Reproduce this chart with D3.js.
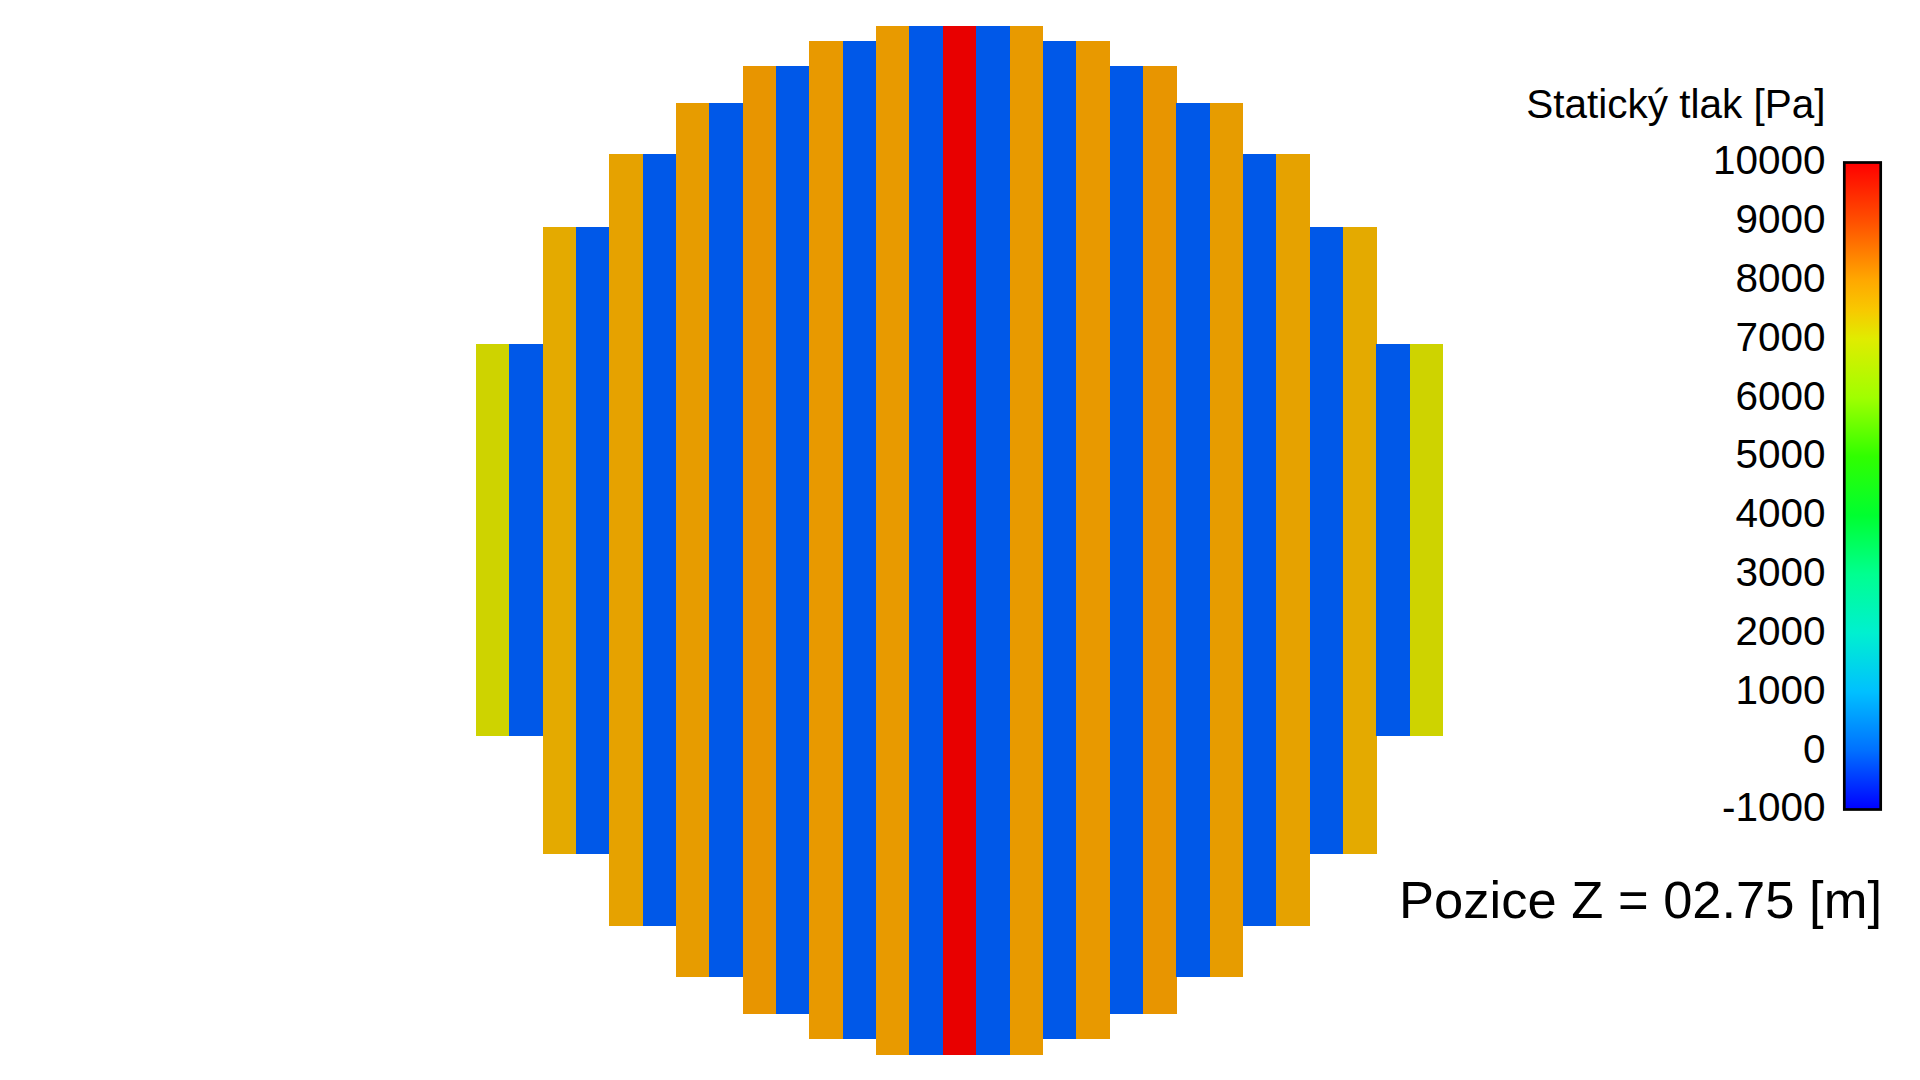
<!DOCTYPE html>
<html>
<head>
<meta charset="utf-8">
<script src="https://cdn.jsdelivr.net/npm/d3@7"></script>
<style>
  html, body { margin: 0; padding: 0; background: #fff; }
  svg { display: block; }
  text { font-family: "Liberation Sans", Arial, sans-serif; fill: #000; }
</style>
</head>
<body>
<svg id="chart" width="1920" height="1080"></svg>
<script>
// ---------- DATA ----------
// stripe index across the cross-section (left to right)
const stripeIds = d3.range(29);
// static pressure in each stripe [Pa]
const stripeValues = [
  7050, -130, 7700, -130, 7850, -130, 7950, -130, 8050, -130, 8000, -130, 7980, -130,
  10000,
  -130, 7980, -130, 8000, -130, 8050, -130, 7950, -130, 7850, -130, 7700, -130, 7050
];
// half-height of each stripe (cross-section extent in y, model units)
const stripeHalfHeights = [
  0.196, 0.196, 0.3135, 0.3135, 0.386, 0.386, 0.437, 0.437, 0.474, 0.474, 0.499, 0.499, 0.5145, 0.5145,
  0.5145,
  0.5145, 0.5145, 0.499, 0.499, 0.474, 0.474, 0.437, 0.437, 0.386, 0.386, 0.3135, 0.3135, 0.196, 0.196
];
// colour map stops
const colorStopValues = [-1000, 0, 1000, 2000, 3000, 4000, 5000, 6000, 7000, 7500, 8000, 9000, 10000];
const colorStopColors = ["#0000ff", "#0070ff", "#00c0ff", "#00f0d0", "#00ff90", "#00ff30",
                         "#30ff00", "#a0ff00", "#e0ec00", "#f8c800", "#ffa800", "#ff5000", "#ff0000"];
// colour-bar tick labels
const tickValues = [10000, 9000, 8000, 7000, 6000, 5000, 4000, 3000, 2000, 1000, 0, -1000];
const legendTitle = "Statický tlak [Pa]";
const positionLabel = "Pozice Z = 02.75 [m]";

// ---------- DRAW ----------
const svg = d3.select("#chart");
const shade = 0.91;

const color = d3.scaleLinear().domain(colorStopValues).range(colorStopColors)
  .interpolate(d3.interpolateRgb).clamp(true);
const shaded = v => {
  const c = d3.rgb(color(v));
  return d3.rgb(c.r * shade, c.g * shade, c.b * shade).formatHex();
};

const x = d3.scaleBand().domain(stripeIds).range([476, 1443]).paddingInner(0).paddingOuter(0);
const y = d3.scaleLinear().domain([-0.54, 0.54]).range([1080, 0]);

svg.append("g").selectAll("rect")
  .data(stripeIds)
  .join("rect")
  .attr("x", i => x(i))
  .attr("width", x.bandwidth() + 0.4)
  .attr("y", i => y(stripeHalfHeights[i]))
  .attr("height", i => y(-stripeHalfHeights[i]) - y(stripeHalfHeights[i]))
  .attr("fill", i => shaded(stripeValues[i]))
  .attr("shape-rendering", "crispEdges");

// colour bar
const cb = d3.scaleLinear().domain([-1000, 10000]).range([808, 161]);
const defs = svg.append("defs");
const grad = defs.append("linearGradient")
  .attr("id", "cbgrad")
  .attr("x1", 0).attr("y1", 1).attr("x2", 0).attr("y2", 0);
grad.selectAll("stop")
  .data(colorStopValues)
  .join("stop")
  .attr("offset", v => (v - colorStopValues[0]) / (colorStopValues[colorStopValues.length - 1] - colorStopValues[0]))
  .attr("stop-color", (v, i) => colorStopColors[i]);

svg.append("rect")
  .attr("x", 1844.3)
  .attr("width", 36.4)
  .attr("y", cb(10000) + 1.5)
  .attr("height", cb(-1000) - cb(10000))
  .attr("fill", "url(#cbgrad)")
  .attr("stroke", "#000")
  .attr("stroke-width", 2.7);

svg.append("g").selectAll("text")
  .data(tickValues)
  .join("text")
  .attr("x", 1825.5)
  .attr("y", v => cb(v))
  .attr("dy", "0.33em")
  .attr("text-anchor", "end")
  .style("font-size", "40.5px")
  .text(v => String(v));

svg.append("text")
  .attr("x", 1825.5)
  .attr("y", 117.5)
  .attr("text-anchor", "end")
  .style("font-size", "40.5px")
  .text(legendTitle);

svg.append("text")
  .attr("x", 1882)
  .attr("y", 918)
  .attr("text-anchor", "end")
  .style("font-size", "52.5px")
  .text(positionLabel);
</script>
</body>
</html>
